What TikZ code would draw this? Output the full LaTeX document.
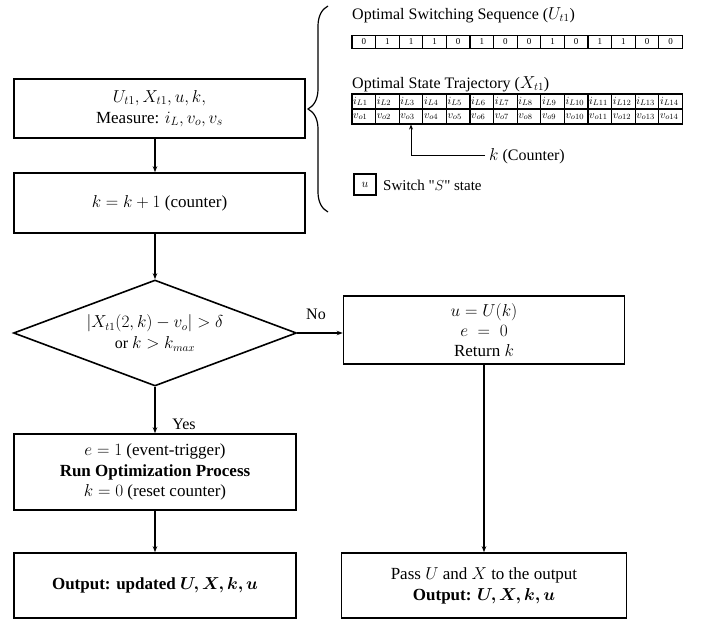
\documentclass[tikz,border=0pt]{standalone}
\usepackage{amsmath,bm}
\usepackage{fontspec}
\setmainfont{Liberation Serif}
\usetikzlibrary{shapes.geometric,arrows.meta,decorations.pathreplacing,calc}
\begin{document}
\begin{tikzpicture}[x=1pt,y=-1pt,
  box/.style={draw, line width=1.6pt, inner sep=0pt, align=center, font=\fontsize{17}{21}\selectfont},
  arr/.style={line width=1.2pt, -{Stealth[length=6pt,width=4.5pt]}},
  lbl/.style={font=\fontsize{16}{19}\selectfont, inner sep=0pt},
  cellbox/.style={draw, line width=1.2pt, minimum width=23.6pt, inner sep=0pt}]
\useasboundingbox (0,0) rectangle (702,620);

% flowchart
\node[box, minimum width=291pt, minimum height=59pt] (b1) at (159.5,108.5) {$U_{t1}, X_{t1}, u, k,$\\ Measure: $i_L, v_o, v_s$};
\node[box, minimum width=291pt, minimum height=60pt] (b2) at (159.5,203) {$k = k + 1$ (counter)};
\node[diamond, draw, line width=1.6pt, aspect=2.67, minimum width=283pt, minimum height=106pt, inner sep=0pt, align=center, font=\fontsize{16}{21}\selectfont] (d) at (155,333) {$|X_{t1}(2,k) - v_o| > \delta$\\ or $k > k_{max}$};
\node[box, font=\fontsize{17}{20}\selectfont, minimum width=281pt, minimum height=68pt] (r) at (484,330) {$u = U(k)$\\ $e \;=\; 0$\\ Return $k$};
\node[box, font=\fontsize{17}{20.5}\selectfont, minimum width=282pt, minimum height=76pt] (b3) at (155,472) {$e = 1$ (event-trigger)\\ \textbf{Run Optimization Process}\\ $k = 0$ (reset counter)};
\node[box, minimum width=282pt, minimum height=65pt] (b4) at (155,585.5) {\textbf{Output: updated $\bm{U, X, k, u}$}};
\node[box, minimum width=285pt, minimum height=65pt] (b5) at (484,585.5) {Pass $U$ and $X$ to the output\\ \textbf{Output: $\bm{U,X,k,u}$}};

\draw[arr] (b1.south -| d.north) -- (b2.north -| d.north);
\draw[arr] (b2.south -| d.north) -- (d.north);
\draw[arr] (d.south) -- (b3.north);
\draw[arr] (b3.south) -- (b4.north);
\draw[arr] (d.east) -- (d.east -| r.west);
\draw[arr] (r.south) -- (b5.north);

\node[lbl] (no) at (316,314) {No};
\node[lbl] (yes) at (184,424) {Yes};

% legend on the right
\draw[line width=1.2pt, decorate, decoration={brace, amplitude=20pt}] (328,212) -- (328,6);
\node[lbl, anchor=west] (t1) at (352,15) {Optimal Switching Sequence ($U_{t1}$)};
\node[lbl, anchor=west] (t2) at (352,84) {Optimal State Trajectory ($X_{t1}$)};

\foreach \v [count=\i] in {0,1,1,1,0,1,0,0,1,0,1,1,0,0}
  \node[cellbox, minimum height=13pt, font=\fontsize{9}{9}\selectfont] (s\i) at ({352+11.8+23.6*(\i-1)}, 42) {\v};

\foreach \i in {1,...,14} {
  \node[cellbox, minimum height=15pt, inner xsep=1.2pt, text width=21.2pt, align=left, font=\fontsize{11}{11}\selectfont] (i\i) at ({352+11.8+23.6*(\i-1)}, 101.5) {$i_{L\i}$};
  \node[cellbox, minimum height=15pt, inner xsep=1.2pt, text width=21.2pt, align=left, font=\fontsize{11}{11}\selectfont] (v\i) at ({352+11.8+23.6*(\i-1)}, 116.5) {$v_{o\i}$};
}

\node[lbl, anchor=west, inner xsep=4pt] (kc) at (485,156) {$k$ (Counter)};
\draw[line width=1pt, -{Stealth[length=5pt,width=4pt]}] (kc.west) -| (v3.south);

\node[draw, line width=1.2pt, minimum width=22pt, minimum height=21pt, inner sep=0pt, font=\fontsize{13}{13}\selectfont] (ub) at (365,184.5) {$u$};
\node[lbl, font=\fontsize{15}{18}\selectfont, anchor=west] (sw) at (383,185) {Switch \textquotedbl$S$\textquotedbl{} state};
\end{tikzpicture}
\end{document}
